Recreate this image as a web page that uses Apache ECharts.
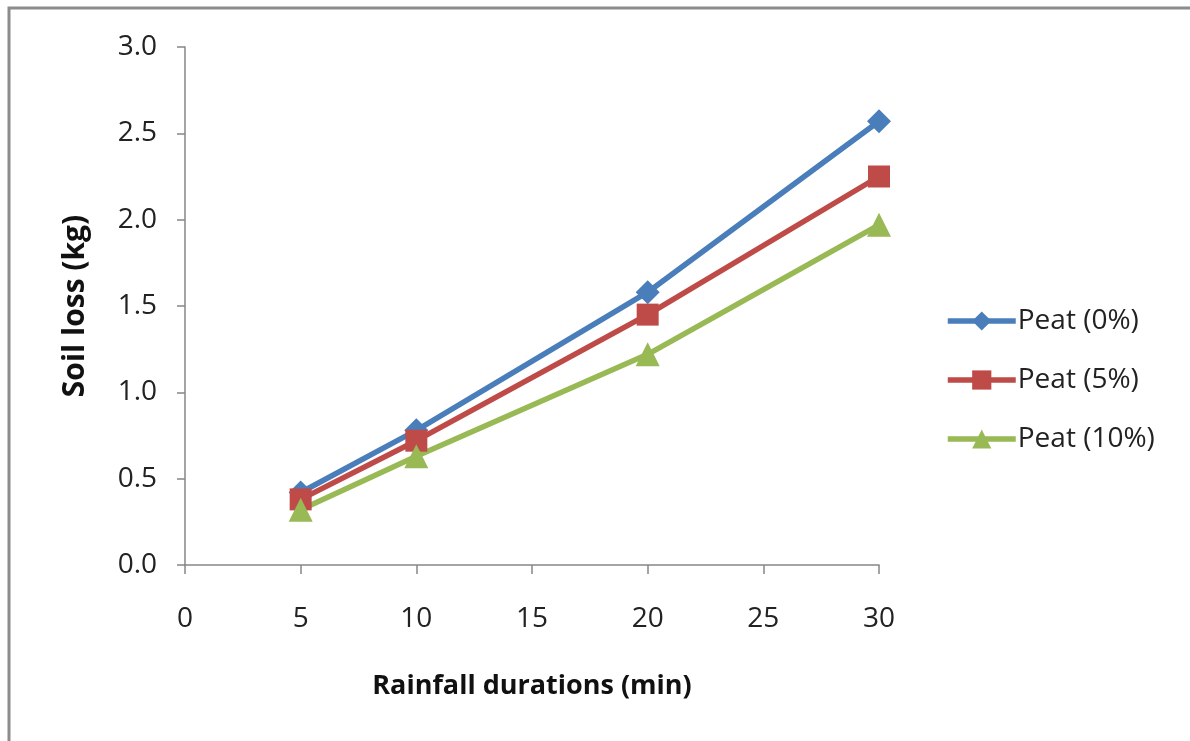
<!DOCTYPE html>
<html>
<head>
<meta charset="utf-8">
<script src="https://cdn.jsdelivr.net/npm/echarts@6/dist/echarts.min.js"></script>
<style>
  html, body { margin: 0; padding: 0; background: #fff; }
  #chart { width: 1190px; height: 741px; }
</style>
</head>
<body>
<div id="chart"></div>
<script>
// rainfall duration (min)
const durations = [5, 10, 20, 30];
// soil loss (kg)
const peat0 = [0.42, 0.78, 1.58, 2.57];
const peat5 = [0.38, 0.72, 1.45, 2.25];
const peat10 = [0.32, 0.63, 1.22, 1.97];
const seriesNames = ['Peat (0%)', 'Peat (5%)', 'Peat (10%)'];

const font = '"Open Sans", "Noto Sans", sans-serif';
const axisGrey = '#868686';

const chart = echarts.init(document.getElementById('chart'));

function pairs(vals) {
    return durations.map((d, i) => [d, vals[i]]);
}

function lineSeries(name, vals, color, symbol, size) {
    return {
        name: name,
        type: 'line',
        data: pairs(vals),
        symbol: symbol,
        symbolSize: size,
        showAllSymbol: true,
        lineStyle: { color: color, width: 5.5 },
        itemStyle: { color: color },
        emphasis: { disabled: true },
        z: 3
    };
}

chart.setOption({
    animation: false,
    backgroundColor: '#fff',
    graphic: [{
        type: 'rect',
        shape: { x: 9, y: 8, width: 1200, height: 800 },
        style: { fill: 'none', stroke: '#8c8c8c', lineWidth: 3 },
        silent: true
    }],
    grid: { left: 185, right: 311, top: 47, bottom: 176 },
    legend: {
        orient: 'vertical',
        left: 940,
        top: 302,
        itemWidth: 68,
        itemHeight: 24,
        itemGap: 31,
        data: seriesNames,
        lineStyle: { width: 5.5 },
        textStyle: { fontFamily: font, fontSize: 28, color: '#222', padding: [0, 0, 0, -3] }
    },
    xAxis: {
        type: 'value',
        min: 0,
        max: 30,
        interval: 5,
        name: 'Rainfall durations (min)',
        nameLocation: 'middle',
        nameGap: 108,
        nameTextStyle: { fontFamily: font, fontSize: 27, fontWeight: 'bold', color: '#111' },
        axisLine: { show: true, lineStyle: { color: axisGrey, width: 1.5 } },
        axisTick: { show: true, length: 9, lineStyle: { color: axisGrey, width: 1.5 } },
        axisLabel: { fontFamily: font, fontSize: 28, color: '#222', margin: 40 },
        splitLine: { show: false }
    },
    yAxis: {
        type: 'value',
        min: 0,
        max: 3,
        interval: 0.5,
        name: 'Soil loss (kg)',
        nameLocation: 'middle',
        nameGap: 95,
        nameTextStyle: { fontFamily: font, fontSize: 30, fontWeight: 'bold', color: '#111' },
        axisLine: { show: true, lineStyle: { color: axisGrey, width: 1.5 } },
        axisTick: { show: true, length: 8, lineStyle: { color: axisGrey, width: 1.5 } },
        axisLabel: {
            fontFamily: font, fontSize: 28, color: '#222', margin: 28,
            formatter: v => v.toFixed(1)
        },
        splitLine: { show: false }
    },
    series: [
        lineSeries(seriesNames[0], peat0, '#4a7ebb', 'diamond', 24),
        lineSeries(seriesNames[1], peat5, '#be4b48', 'rect', 22),
        lineSeries(seriesNames[2], peat10, '#98b954', 'triangle', 24)
    ]
});
</script>
</body>
</html>
